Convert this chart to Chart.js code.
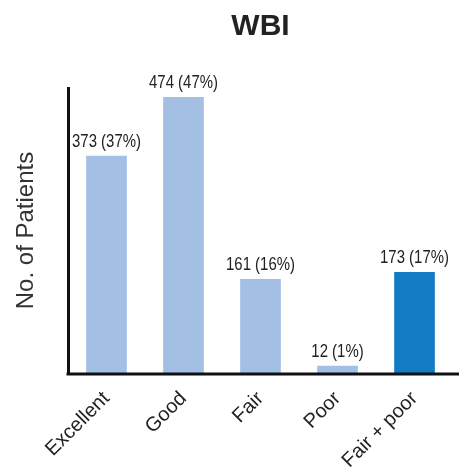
<!DOCTYPE html>
<html>
<head>
<meta charset="utf-8">
<script src="https://cdn.jsdelivr.net/npm/chart.js@4"></script>
<style>
  html, body { margin: 0; padding: 0; background: #fff; }
  #wrap { width: 459px; height: 472px; }
</style>
</head>
<body>
<div id="wrap"><canvas id="wbiChart"></canvas></div>
<script>
const chartTitle = 'WBI';
const categories = ['Excellent', 'Good', 'Fair', 'Poor', 'Fair + poor'];
const patients = [373, 474, 161, 12, 173];
const percents = [37, 47, 16, 1, 17];
const barColors = ['#a3bfe4', '#a3bfe4', '#a3bfe4', '#a3bfe4', '#127bc4'];

// value labels above each bar, e.g. "373 (37%)" - narrow type, so squeeze it
const valueLabels = {
  id: 'valueLabels',
  afterDatasetsDraw(chart) {
    const ctx = chart.ctx;
    const meta = chart.getDatasetMeta(0);
    ctx.save();
    ctx.font = '18px "Liberation Sans", Arial, sans-serif';
    ctx.fillStyle = '#222';
    ctx.textAlign = 'center';
    ctx.textBaseline = 'alphabetic';
    meta.data.forEach((bar, i) => {
      ctx.save();
      ctx.translate(bar.x, bar.y - 9);
      ctx.scale(0.83, 1);
      ctx.fillText(patients[i] + ' (' + percents[i] + '%)', 0, 0);
      ctx.restore();
    });
    ctx.restore();
  }
};

// title centred over the plot area, and x axis line running to the right edge
const frame = {
  id: 'frame',
  afterDraw(chart) {
    const ctx = chart.ctx;
    const area = chart.chartArea;
    ctx.save();
    ctx.font = 'bold 30px "Liberation Sans", Arial, sans-serif';
    ctx.fillStyle = '#222';
    ctx.textAlign = 'center';
    ctx.textBaseline = 'alphabetic';
    ctx.fillText(chartTitle, (area.left + area.right) / 2, 35);

    ctx.strokeStyle = '#111';
    ctx.lineWidth = 3;
    ctx.beginPath();
    ctx.moveTo(area.left - 1.5, area.bottom + 1);
    ctx.lineTo(chart.width, area.bottom + 1);
    ctx.stroke();
    ctx.restore();
  }
};

const ctx = document.getElementById('wbiChart').getContext('2d');
new Chart(ctx, {
  type: 'bar',
  data: {
    labels: categories,
    datasets: [{
      label: 'No. of Patients',
      data: patients,
      backgroundColor: barColors,
      borderWidth: 0,
      barThickness: 40
    }]
  },
  options: {
    responsive: true,
    maintainAspectRatio: false,
    animation: false,
    layout: { padding: { left: 12, right: 6, top: 88, bottom: 0 } },
    scales: {
      y: {
        min: 0,
        max: 490,
        grid: { display: false, drawTicks: false },
        border: { display: true, color: '#111', width: 3 },
        ticks: { display: false },
        title: {
          display: true,
          text: 'No. of Patients',
          color: '#333',
          font: { family: '"Liberation Sans", Arial, sans-serif', size: 24 },
          padding: 0
        },
        afterFit(scale) { scale.width = 56; }
      },
      x: {
        grid: { display: false, drawTicks: false },
        border: { display: false },
        ticks: {
          color: '#222',
          minRotation: 45,
          maxRotation: 45,
          padding: 14,
          font: { family: '"Liberation Sans", Arial, sans-serif', size: 20 }
        },
        afterFit(scale) { scale.height = 99; }
      }
    },
    plugins: {
      legend: { display: false },
      tooltip: { enabled: false },
      title: { display: false }
    }
  },
  plugins: [valueLabels, frame]
});
</script>
</body>
</html>
